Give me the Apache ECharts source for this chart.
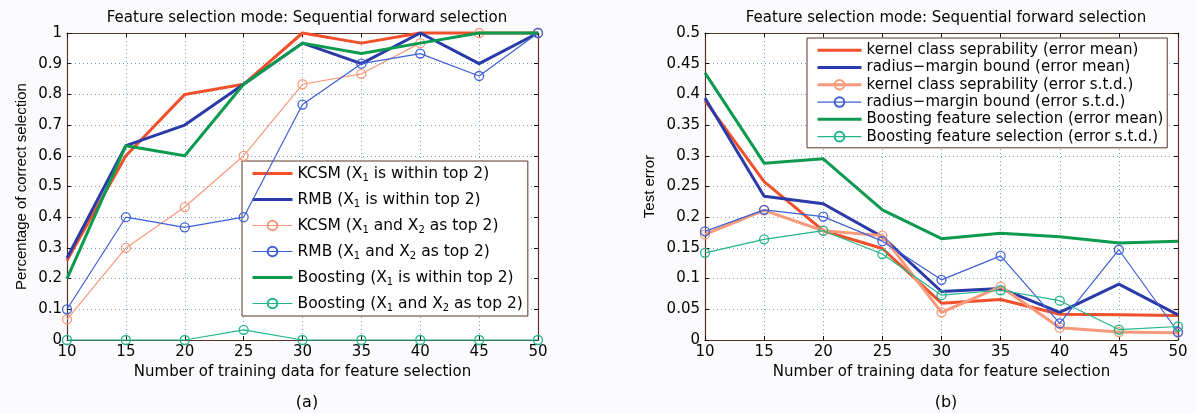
<!DOCTYPE html>
<html>
<head>
<meta charset="utf-8">
<script src="https://cdn.jsdelivr.net/npm/echarts@6/dist/echarts.min.js"></script>
<style>
html,body{margin:0;padding:0;background:#fbfbfe;}
#c{width:1196px;height:413px;}
</style>
</head>
<body>
<div id="c"></div>
<script>
// ---------- data ----------
var xValues = [10, 15, 20, 25, 30, 35, 40, 45, 50];
var xTicks = [10, 15, 20, 25, 30, 35, 40, 45, 50];
var yTicksA = [0, 0.1, 0.2, 0.3, 0.4, 0.5, 0.6, 0.7, 0.8, 0.9, 1];
var yTicksB = [0, 0.05, 0.1, 0.15, 0.2, 0.25, 0.3, 0.35, 0.4, 0.45, 0.5];

// panel (a): percentage of correct selection
var namesA = [
  'KCSM (X1 is within top 2)',
  'RMB (X1 is within top 2)',
  'KCSM (X1 and X2 as top 2)',
  'RMB (X1 and X2 as top 2)',
  'Boosting (X1 is within top 2)',
  'Boosting (X1 and X2 as top 2)'
];
var kcsmTop = [0.26, 0.60, 0.80, 0.833, 1.0, 0.967, 1.0, 1.0, 1.0];
var rmbTop = [0.267, 0.633, 0.70, 0.833, 0.967, 0.90, 1.0, 0.90, 1.0];
var kcsmBoth = [0.067, 0.30, 0.433, 0.60, 0.833, 0.867, 0.967, 1.0, 1.0];
var rmbBoth = [0.10, 0.40, 0.367, 0.40, 0.767, 0.90, 0.933, 0.86, 1.0];
var boostTop = [0.20, 0.633, 0.60, 0.833, 0.967, 0.933, 0.967, 1.0, 1.0];
var boostBoth = [0, 0, 0, 0.033, 0, 0, 0, 0, 0];

// panel (b): test error
var namesB = [
  'kernel class seprability (error mean)',
  'radius\u2212margin bound (error mean)',
  'kernel class seprability (error s.t.d.)',
  'radius\u2212margin bound (error s.t.d.)',
  'Boosting feature selection (error mean)',
  'Boosting feature selection (error s.t.d.)'
];
var kcsMean = [0.39, 0.258, 0.178, 0.149, 0.06, 0.066, 0.042, 0.041, 0.04];
var rmbMean = [0.394, 0.234, 0.222, 0.168, 0.079, 0.084, 0.045, 0.091, 0.041];
var kcsStd = [0.172, 0.211, 0.178, 0.17, 0.045, 0.087, 0.020, 0.013, 0.012];
var rmbStd = [0.177, 0.212, 0.201, 0.161, 0.098, 0.137, 0.027, 0.147, 0.013];
var boostMean = [0.435, 0.288, 0.295, 0.212, 0.165, 0.174, 0.168, 0.158, 0.161];
var boostStd = [0.142, 0.164, 0.178, 0.140, 0.073, 0.081, 0.064, 0.017, 0.022];

var titleText = 'Feature selection mode: Sequential forward selection';
var xName = 'Number of training data for feature selection';

// ---------- style ----------
var FONT = '"DejaVu Sans", Verdana, sans-serif';
var FONT_V = '"Liberation Sans", Arial, sans-serif';
var FRAME = '#5a3428';
var GRIDC = '#7aa2c8';
var TXT = '#050505';
var C_RED = '#f0502a', C_BLUE = '#2a3aa8', C_SALMON = '#f89a7a',
    C_LBLUE = '#3f5fd6', C_GREEN = '#0c9a4e', C_TEAL = '#22b48a';
var CLEAR = 'rgba(0,0,0,0)';

function pairs(ys) { return xValues.map(function (x, i) { return [x, ys[i]]; }); }

function subFmt(name) {
  var out = '';
  var parts = name.split(/X([12])/);
  for (var i = 0; i < parts.length; i++) {
    if (i % 2 === 0) { if (parts[i]) out += '{n|' + parts[i] + '}'; }
    else out += '{n|X}{s|' + parts[i] + '}';
  }
  return out;
}

function xAx(grid, pos, show) {
  return {
    type: 'value', gridIndex: grid, position: pos,
    min: xTicks[0], max: xTicks[xTicks.length - 1], interval: xTicks[1] - xTicks[0],
    name: show ? xName : '', nameLocation: 'middle', nameGap: 21,
    nameTextStyle: { fontFamily: FONT, fontSize: 15, color: TXT },
    axisLine: { show: true, onZero: false, lineStyle: { color: FRAME, width: 1.2 } },
    axisTick: { show: true, inside: true, length: 4, lineStyle: { color: '#111' } },
    axisLabel: { show: show, margin: 5, fontFamily: FONT, fontSize: 15, color: TXT },
    splitLine: { show: show, lineStyle: { color: GRIDC, type: [1, 3], width: 1 } }
  };
}
function yAx(grid, pos, show, ticks, name, gap) {
  return {
    type: 'value', gridIndex: grid, position: pos,
    min: ticks[0], max: ticks[ticks.length - 1], interval: ticks[1] - ticks[0],
    name: show ? name : '', nameLocation: 'middle', nameGap: gap,
    nameTextStyle: { fontFamily: FONT_V, fontSize: 15, color: TXT },
    axisLine: { show: true, onZero: false, lineStyle: { color: FRAME, width: 1.2 } },
    axisTick: { show: true, inside: true, length: 4, lineStyle: { color: '#111' } },
    axisLabel: { show: show, margin: 5, fontFamily: FONT, fontSize: 15, color: TXT },
    splitLine: { show: show, lineStyle: { color: GRIDC, type: [1, 3], width: 1 } }
  };
}

function ser(name, data, color, thick, marker, xi, yi, z) {
  return {
    type: 'line', name: name, data: pairs(data), xAxisIndex: xi, yAxisIndex: yi,
    symbol: marker ? 'circle' : 'none', symbolSize: 9, showSymbol: !!marker,
    clip: false, z: z, animation: false,
    lineStyle: { color: color, width: thick ? 3 : 1.2 },
    itemStyle: { color: CLEAR, borderColor: color, borderWidth: 1.3 },
    emphasis: { disabled: true }
  };
}

var markersA = [false, false, true, true, false, true];
var thickA = [true, true, false, false, true, false];
var markersB = [false, false, true, true, false, true];
var thickB = [true, true, true, false, true, false];

function legendItems(names, markers, thick) {
  return names.map(function (n, i) {
    var it = { name: n, lineStyle: { width: thick[i] ? 3 : 1.2 } };
    if (!markers[i]) it.itemStyle = { color: CLEAR, borderColor: CLEAR, borderWidth: 0 };
    return it;
  });
}

var chart = echarts.init(document.getElementById('c'), null, { renderer: 'canvas' });
chart.setOption({
  backgroundColor: '#fbfbfe',
  animation: false,
  textStyle: { fontFamily: FONT },
  title: [
    { text: titleText, left: 302, top: 6, textAlign: 'center',
      textStyle: { fontFamily: FONT, fontSize: 15, fontWeight: 'normal', color: TXT } },
    { text: titleText, left: 941, top: 6, textAlign: 'center',
      textStyle: { fontFamily: FONT, fontSize: 15, fontWeight: 'normal', color: TXT } },
    { text: '(a)', left: 302, top: 390, textAlign: 'center',
      textStyle: { fontFamily: FONT, fontSize: 16, fontWeight: 'normal', color: TXT } },
    { text: '(b)', left: 941, top: 390, textAlign: 'center',
      textStyle: { fontFamily: FONT, fontSize: 16, fontWeight: 'normal', color: TXT } }
  ],
  grid: [
    { left: 67, right: 658, top: 33, bottom: 73, show: true, backgroundColor: '#ffffff', borderWidth: 0 },
    { left: 705, right: 18, top: 33, bottom: 73, show: true, backgroundColor: '#ffffff', borderWidth: 0 }
  ],
  xAxis: [xAx(0, 'bottom', true), xAx(0, 'top', false), xAx(1, 'bottom', true), xAx(1, 'top', false)],
  yAxis: [
    yAx(0, 'left', true, yTicksA, 'Percentage of correct selection', 38),
    yAx(0, 'right', false, yTicksA, '', 0),
    yAx(1, 'left', true, yTicksB, 'Test error', 48),
    yAx(1, 'right', false, yTicksB, '', 0)
  ],
  legend: [
    {
      data: legendItems(namesA, markersA, thickA), orient: 'vertical', left: 242, top: 161,
      backgroundColor: '#ffffff', borderColor: FRAME, borderWidth: 1,
      padding: [3, 5, 3, 9], itemWidth: 40, itemHeight: 12, itemGap: 7,
      selectedMode: false,
      formatter: subFmt,
      textStyle: {
        color: TXT, lineHeight: 19,
        rich: {
          n: { fontFamily: FONT, fontSize: 15.5, lineHeight: 19, color: TXT },
          s: { fontFamily: FONT, fontSize: 10, lineHeight: 10, verticalAlign: 'bottom', color: TXT }
        }
      }
    },
    {
      data: legendItems(namesB, markersB, thickB), orient: 'vertical', left: 807, top: 38,
      backgroundColor: '#ffffff', borderColor: FRAME, borderWidth: 1,
      padding: [4, 4, 3, 9], itemWidth: 44, itemHeight: 12, itemGap: 1,
      selectedMode: false,
      textStyle: { fontFamily: FONT, fontSize: 15, lineHeight: 16.3, color: TXT }
    }
  ],
  series: [
    ser(namesA[0], kcsmTop, C_RED, true, false, 0, 0, 3),
    ser(namesA[1], rmbTop, C_BLUE, true, false, 0, 0, 4),
    ser(namesA[2], kcsmBoth, C_SALMON, false, true, 0, 0, 5),
    ser(namesA[3], rmbBoth, C_LBLUE, false, true, 0, 0, 6),
    ser(namesA[4], boostTop, C_GREEN, true, false, 0, 0, 7),
    ser(namesA[5], boostBoth, C_TEAL, false, true, 0, 0, 8),
    ser(namesB[0], kcsMean, C_RED, true, false, 2, 2, 3),
    ser(namesB[1], rmbMean, C_BLUE, true, false, 2, 2, 4),
    ser(namesB[2], kcsStd, C_SALMON, true, true, 2, 2, 5),
    ser(namesB[3], rmbStd, C_LBLUE, false, true, 2, 2, 6),
    ser(namesB[4], boostMean, C_GREEN, true, false, 2, 2, 7),
    ser(namesB[5], boostStd, C_TEAL, false, true, 2, 2, 8)
  ]
});
</script>
</body>
</html>
